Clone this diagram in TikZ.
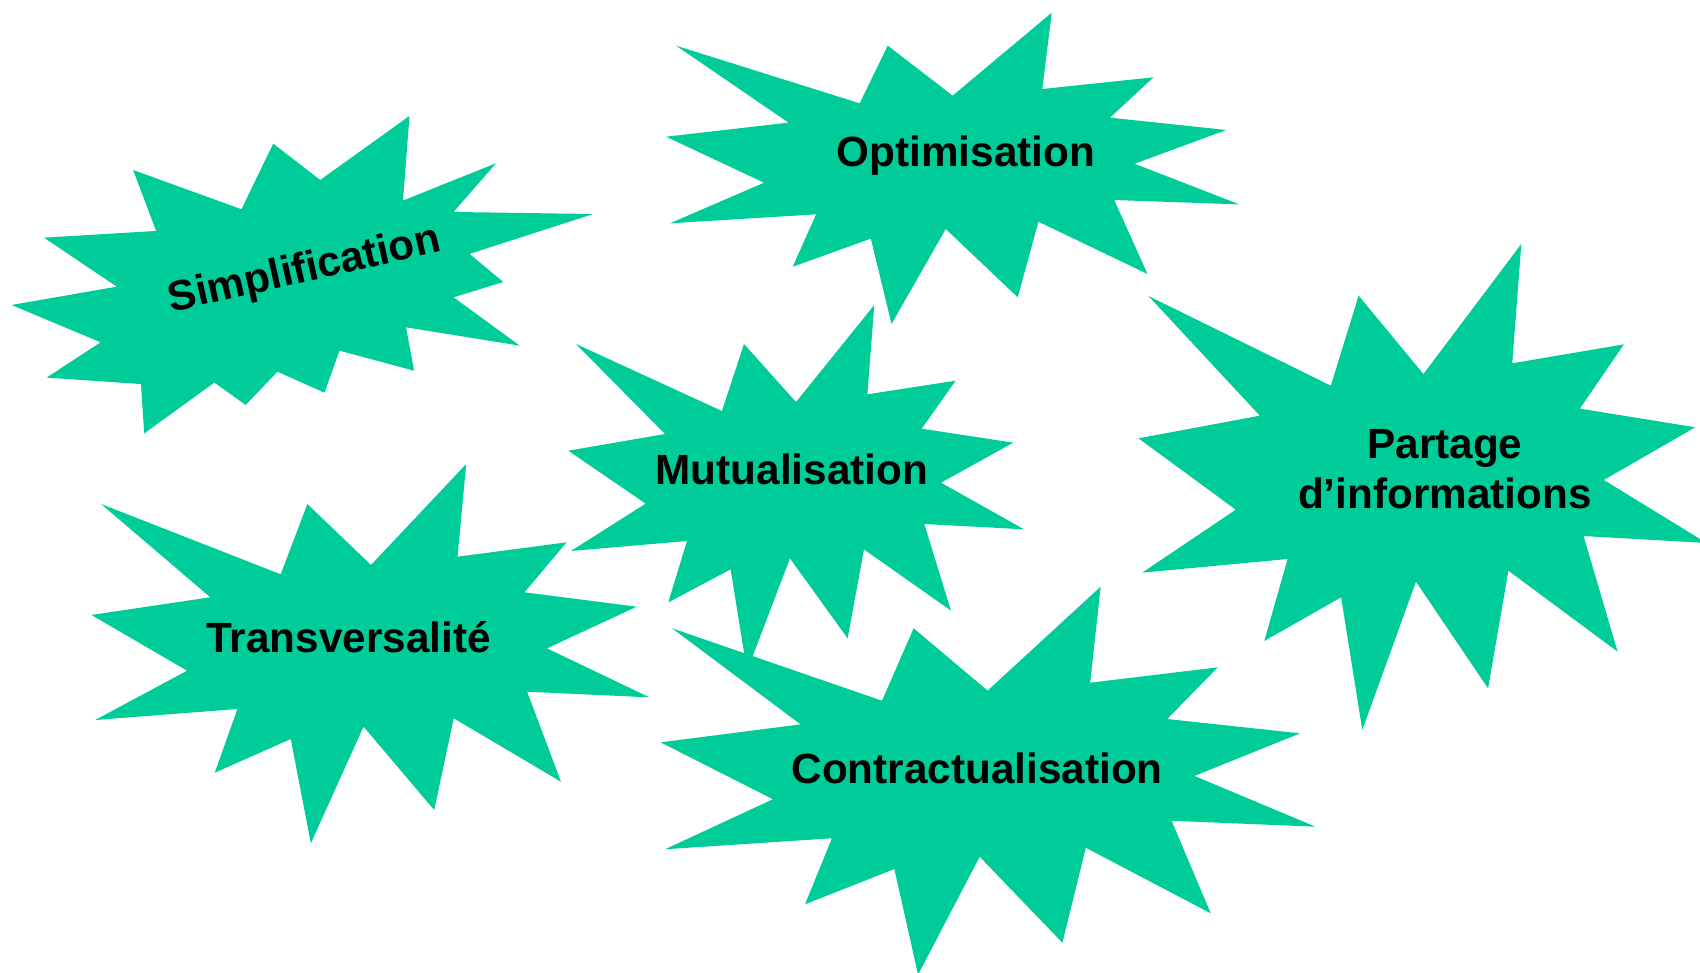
\documentclass[tikz,border=0pt]{standalone}
\usepackage{fontspec}
\setmainfont[Ligatures=NoCommon]{Liberation Sans}
\definecolor{burstgreen}{RGB}{0,204,153}
\begin{document}
\begin{tikzpicture}[x=1pt,y=-1pt,
  burst/.style={fill=burstgreen,draw=none},
  word/.style={font=\fontsize{39}{46}\selectfont\bfseries,inner sep=0pt,text=black,align=center}]
\useasboundingbox (0,0) rectangle (1568,897);
\clip (0,0) rectangle (1568,897);
% Simplification
\fill[burst] (122.8,156.8) -- (144,213) -- (40.6,219.2) -- (107.7,264.4) -- (10.6,281.3) -- (92.8,315.7) -- (43,348.3) -- (130,354.2) -- (133,399.7) -- (197.7,352.9) -- (226.6,373.5) -- (255.9,342.8) -- (299.3,362.2) -- (313.1,323.4) -- (381.9,341.9) -- (374.5,301.9) -- (479.4,318.8) -- (418.3,274.2) -- (464.2,260.1) -- (433.1,234.2) -- (547.1,197.4) -- (418.3,195.5) -- (457.5,150.6) -- (371.7,185) -- (377.7,106.9) -- (295.4,166) -- (252,132.5) -- (222.7,193) -- cycle;
% Optimisation
\fill[burst] (623.5,42.1) -- (727.3,113.1) -- (614.4,126.1) -- (704.7,168.5) -- (617.9,206) -- (752.7,197.7) -- (731.2,246) -- (803.2,220.1) -- (822.3,298.8) -- (872.3,211.2) -- (938.7,274.2) -- (957.8,204.5) -- (1058.4,252.7) -- (1027.7,184.5) -- (1143.1,188.5) -- (1046.4,151) -- (1131.1,119.9) -- (1023.8,108.5) -- (1064,71.3) -- (961.3,82.1) -- (970.1,11.7) -- (878.7,88.2) -- (818.8,42.1) -- (792.9,95.3) -- cycle;
% Mutualisation
\fill[burst] (531.3,317.3) -- (613.4,400.3) -- (524.2,415.7) -- (595.5,464.5) -- (526.7,508.2) -- (633.6,499) -- (616.4,555.6) -- (673.9,525.1) -- (689,619) -- (728.6,515) -- (781.8,588.8) -- (796.9,506.7) -- (877.1,563.2) -- (852.5,483.3) -- (944.5,488.2) -- (867.9,445.2) -- (934.6,408.3) -- (850.1,395.4) -- (881.5,351.1) -- (800,363.7) -- (806.4,281.3) -- (734.2,370.8) -- (686.2,317.3) -- (665.9,379.1) -- cycle;
% Partage d'informations
\fill[burst] (1059.3,273) -- (1162,383.4) -- (1050.1,404.3) -- (1139.8,470.1) -- (1053.5,528.2) -- (1187.6,515.6) -- (1166.1,591.2) -- (1237,550.9) -- (1256.5,673.3) -- (1306,536.5) -- (1372.5,634.9) -- (1391.3,526.4) -- (1492,601.1) -- (1460.6,494.4) -- (1574,500.8) -- (1479.3,442.7) -- (1563.6,394.1) -- (1457.2,376.9) -- (1497.8,317.6) -- (1394.8,335.1) -- (1403.2,225) -- (1312.9,345) -- (1253.1,272.7) -- (1227.5,355.7) -- cycle;
% Transversalite
\fill[burst] (93.3,464.9) -- (194,550.9) -- (84.3,567.2) -- (172.5,618.6) -- (87.8,664.1) -- (219,653.9) -- (198.1,712.7) -- (268.2,681.6) -- (286.7,777.8) -- (335.3,670.2) -- (400.5,747.1) -- (418.5,662.5) -- (517.4,721) -- (486.2,638) -- (599,643.2) -- (504.5,598) -- (587.2,559.6) -- (483.8,546.3) -- (522.6,500.2) -- (422,513.5) -- (430,428) -- (342.2,521.1) -- (283.5,464.9) -- (258.9,529.7) -- cycle;
% Contractualisation
\fill[burst] (619.9,579.5) -- (738.4,668.1) -- (609.4,684.7) -- (712.9,737.2) -- (613.4,783.3) -- (767.3,773.2) -- (742.5,834.1) -- (824.9,801.5) -- (846.8,899) -- (903.6,790.2) -- (979.9,869.5) -- (1001.5,781.9) -- (1116.7,842.4) -- (1080.6,757) -- (1213.3,762.5) -- (1101.7,715.7) -- (1199.1,676.4) -- (1076.6,663.2) -- (1123.2,615.5) -- (1005.5,629.7) -- (1015.2,541.1) -- (910.9,637) -- (842.7,579.5) -- (813.5,646.3) -- cycle;
% labels
\node[word,anchor=base,rotate=12.7] (simp) at (283.3,259.8) {Simplification};
\node[word,anchor=base] (opti) at (891,153.7) {Optimisation};
\node[word,anchor=base] (mutu) at (730.5,447.3) {Mutualisation};
\node[word,anchor=center] (part) at (1332.7,432.8) {Partage\\d’informations};
\node[word,anchor=base] (trans) at (321.4,602) {Transversalité};
\node[word,anchor=base] (contr) at (901.2,722.5) {Contractualisation};
\end{tikzpicture}
\end{document}
